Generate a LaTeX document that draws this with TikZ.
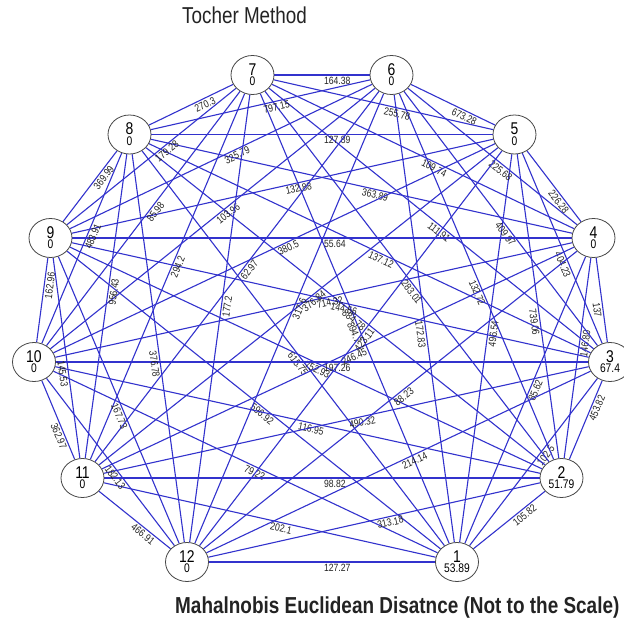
\documentclass[tikz,border=0pt]{standalone}
\usepackage{fontspec}
\setmainfont{Liberation Sans}
\usepackage{graphicx}
\usetikzlibrary{shapes.geometric}
\pgfdeclarelayer{bg}
\pgfsetlayers{bg,main}
\newcommand{\cz}[1]{\scalebox{0.82}[1]{#1}}
\definecolor{edgeblue}{RGB}{50,50,205}
\definecolor{nodeline}{RGB}{70,70,70}
\definecolor{txt}{RGB}{35,35,35}
\begin{document}
\begin{tikzpicture}[x=1pt,y=-1pt,
  vtx/.style={ellipse,draw=nodeline,fill=white,line width=0.8pt,minimum width=43pt,minimum height=39pt,inner sep=0pt},
  edge/.style={draw=edgeblue,line width=1.1pt},
  elab/.style={pos=0.5,sloped,anchor=north west,inner sep=1.5pt,font=\fontsize{10.5}{11}\selectfont,text=txt},
  vnum/.style={font=\fontsize{17}{17}\selectfont,text=black,yshift=5.5pt,inner sep=0pt},
  vval/.style={font=\fontsize{12.5}{13}\selectfont,text=black,yshift=-6.5pt,inner sep=0pt}]
\useasboundingbox (0,0) rectangle (624,620);

\node[anchor=base west,inner sep=0pt,text=txt,font=\fontsize{23}{23}\selectfont] (title) at (182,24) {\cz{Tocher Method}};
\node[anchor=base west,inner sep=0pt,text=txt,font=\bfseries\fontsize{23.1}{24}\selectfont] (caption) at (175,613) {\cz{Mahalnobis Euclidean Disatnce (Not to the Scale)}};

\foreach \n/\x/\y/\v in {1/457/562/53.89, 2/561.5/478/51.79, 3/610/362/67.4, 4/593.5/238/0,
  5/514.5/134.5/0, 6/391.5/75/0, 7/252.5/75/0, 8/129.5/134.5/0, 9/50.5/238/0,
  10/34/362/0, 11/82.5/478/0, 12/187/562/0}
  \node[vtx,label={[vnum]center:\cz{\n}},label={[vval]center:\cz{\v}}] (n\n) at (\x,\y) {};

\begin{pgfonlayer}{bg}
\fill[white] (0,0) rectangle (624,620);
\foreach \a/\b/\t in {
  1/2/105.82, 1/3/102.5, 1/4/85.62, 1/5/496.54, 1/6/172.83, 1/7/894.7, 1/8/615.75,
  1/9/596.92, 1/10/79.22, 1/11/202.1, 1/12/127.27,
  2/3/453.82, 2/4/146.80, 2/5/739.06, 2/6/132.72, 2/7/283.01, 2/8/884.78, 2/9/752.93,
  2/10/116.95, 2/11/98.82, 2/12/313.18,
  3/4/137, 3/5/404.23, 3/6/409.97, 3/7/111.91, 3/8/137.12, 3/9/144.56, 3/10/197.26,
  3/11/490.32, 3/12/214.14,
  4/5/226.28, 4/6/225.68, 4/7/109.74, 4/8/363.89, 4/9/55.64, 4/10/714.32, 4/11/246.45,
  4/12/88.23,
  5/6/673.28, 5/7/255.78, 5/8/127.89, 5/9/132.88, 5/10/380.5, 5/11/376.84, 5/12/423.11,
  6/7/164.38, 6/8/797.15, 6/9/325.79, 6/10/103.96, 6/11/62.97, 6/12/317.6,
  7/8/270.3, 7/9/179.28, 7/10/85.98, 7/11/294.2, 7/12/177.2,
  8/9/369.99, 8/10/483.91, 8/11/956.43, 8/12/376.78,
  9/10/162.96, 9/11/145.53, 9/12/167.73,
  10/11/362.97, 10/12/182.13,
  11/12/466.91}
  \draw[edge] (n\a) -- node[elab]{\cz{\t}} (n\b);
\end{pgfonlayer}
\end{tikzpicture}
\end{document}
